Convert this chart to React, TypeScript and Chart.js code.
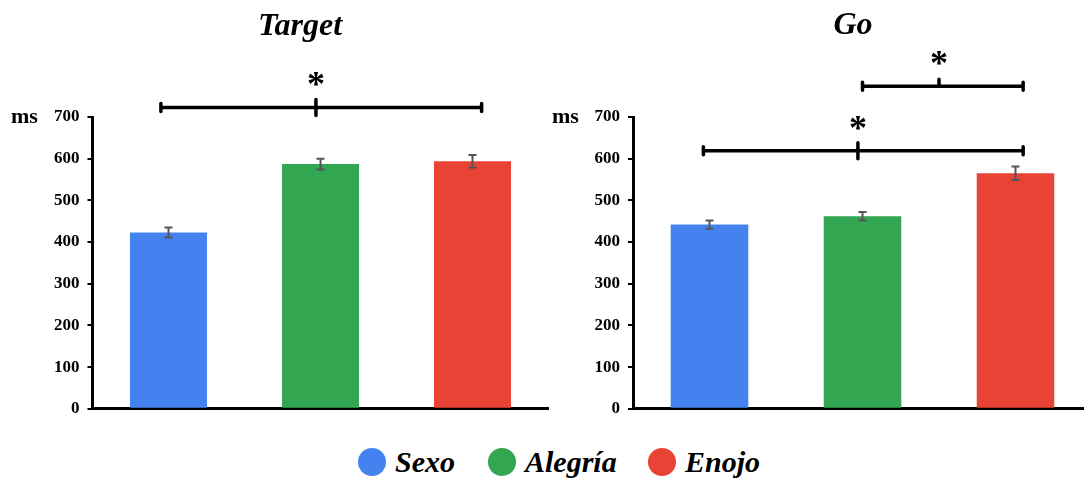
import React, { useEffect, useRef } from "react";
import { Chart, registerables } from "chart.js";

Chart.register(...registerables);

const categories = ["Sexo", "Alegría", "Enojo"];
const colors = ["#4483EF", "#33A652", "#E84335"];

const targetMeans = [423, 587, 594];
const targetErrors = [12, 13, 15];

const goMeans = [442, 462, 565];
const goErrors = [10, 10, 16];

const yMin = 0;
const yMax = 700;
const yStep = 100;

// significance brackets: positions in category-index units, level in ms
const targetBrackets = [{ from: -0.05, to: 2.06, mid: 0.97, level: 723, upOnly: false }];
const goBrackets = [
  { from: -0.04, to: 2.05, mid: 0.97, level: 619, upOnly: false },
  { from: 1.0, to: 2.05, mid: 1.5, level: 774, upOnly: true },
];

const SERIF = '"Liberation Serif", "Times New Roman", serif';

type Bracket = { from: number; to: number; mid: number; level: number; upOnly: boolean };

function makePlugin(errors: number[], brackets: Bracket[]) {
  return {
    id: "extras",
    afterDatasetsDraw(chart: any) {
      const ctx = chart.ctx as CanvasRenderingContext2D;
      const x = chart.scales.x;
      const y = chart.scales.y;
      const meta = chart.getDatasetMeta(0);
      const values = chart.data.datasets[0].data as number[];
      ctx.save();
      // error bars
      ctx.strokeStyle = "#555555";
      ctx.lineWidth = 2;
      meta.data.forEach((bar: any, i: number) => {
        const cx = bar.x;
        const top = y.getPixelForValue(values[i] + errors[i]);
        const bot = y.getPixelForValue(values[i] - errors[i]);
        ctx.beginPath();
        ctx.moveTo(cx, top);
        ctx.lineTo(cx, bot);
        ctx.moveTo(cx - 4, top);
        ctx.lineTo(cx + 4, top);
        ctx.moveTo(cx - 4, bot);
        ctx.lineTo(cx + 4, bot);
        ctx.stroke();
      });
      // brackets
      ctx.strokeStyle = "#000";
      ctx.fillStyle = "#000";
      brackets.forEach((b) => {
        const x1 = x.getPixelForValue(b.from);
        const x2 = x.getPixelForValue(b.to);
        const xm = x.getPixelForValue(b.mid);
        const py = y.getPixelForValue(b.level);
        ctx.lineCap = "butt";
        ctx.lineWidth = 3.5;
        ctx.beginPath();
        ctx.moveTo(x1, py);
        ctx.lineTo(x2, py);
        ctx.stroke();
        ctx.lineCap = "round";
        ctx.lineWidth = 3.5;
        ctx.beginPath();
        ctx.moveTo(x1, py - 4);
        ctx.lineTo(x1, py + 4);
        ctx.moveTo(x2, py - 4);
        ctx.lineTo(x2, py + 4);
        if (b.upOnly) {
          ctx.moveTo(xm, py);
          ctx.lineTo(xm, py - 7);
        } else {
          ctx.moveTo(xm, py - 8);
          ctx.lineTo(xm, py + 8);
        }
        ctx.stroke();
        ctx.font = `bold 36px ${SERIF}`;
        ctx.textAlign = "center";
        ctx.textBaseline = "alphabetic";
        ctx.fillText("*", xm, py - 27 + 16);
      });
      ctx.restore();
    },
  };
}

function BarPanel(props: {
  means: number[];
  errors: number[];
  brackets: Bracket[];
  left: number;
  width: number;
  axisWidth: number;
  plotWidth: number;
}) {
  const ref = useRef<HTMLCanvasElement | null>(null);
  const height = 427;
  const bottomPad = 7;
  useEffect(() => {
    if (!ref.current) return;
    const chart = new Chart(ref.current, {
      type: "bar",
      data: {
        labels: categories,
        datasets: [
          {
            data: props.means,
            backgroundColor: colors,
            borderWidth: 0,
            barPercentage: 0.507,
            categoryPercentage: 1,
          },
        ],
      },
      options: {
        responsive: false,
        animation: false,
        devicePixelRatio: 1,
        layout: {
          padding: {
            left: 0,
            right: props.width - props.axisWidth - props.plotWidth,
            top: 117,
            bottom: bottomPad,
          },
        },
        plugins: { legend: { display: false }, tooltip: { enabled: false }, title: { display: false } },
        scales: {
          x: {
            ticks: { display: false },
            grid: { display: false },
            border: { display: true, color: "#000", width: 3 },
            afterFit: (s: any) => {
              s.height = 0;
            },
          },
          y: {
            min: yMin,
            max: yMax,
            ticks: {
              stepSize: yStep,
              color: "#000",
              padding: 8,
              font: { family: SERIF, size: 17, weight: "bold" },
            },
            grid: { drawOnChartArea: false, drawTicks: true, tickLength: 5, color: "#000", lineWidth: 2 },
            border: { display: true, color: "#000", width: 3 },
            afterFit: (s: any) => {
              s.width = props.axisWidth;
            },
          },
        },
      } as any,
      plugins: [makePlugin(props.errors, props.brackets)],
    });
    return () => chart.destroy();
  }, []);
  return (
    <canvas
      ref={ref}
      width={props.width}
      height={height}
      style={{ position: "absolute", left: props.left, top: 0, width: props.width, height }}
    />
  );
}

const textBase: React.CSSProperties = {
  position: "absolute",
  fontFamily: SERIF,
  color: "#000",
  whiteSpace: "nowrap",
  lineHeight: "30px",
};

export default function App() {
  const legend = [
    { label: categories[0], color: colors[0], cx: 372 },
    { label: categories[1], color: colors[1], cx: 502 },
    { label: categories[2], color: colors[2], cx: 662 },
  ];
  return (
    <div
      style={{
        position: "fixed",
        left: 0,
        top: 0,
        width: 1084,
        height: 480,
        overflow: "hidden",
        background: "#fff",
      }}
    >
      <BarPanel
        means={targetMeans}
        errors={targetErrors}
        brackets={targetBrackets}
        left={0}
        width={560}
        axisWidth={92.5}
        plotWidth={456}
      />
      <BarPanel
        means={goMeans}
        errors={goErrors}
        brackets={goBrackets}
        left={540}
        width={560}
        axisWidth={93}
        plotWidth={459}
      />
      <div style={{ ...textBase, left: 200, width: 200, top: 9, textAlign: "center", fontSize: 32, fontWeight: "bold", fontStyle: "italic" }}>
        Target
      </div>
      <div style={{ ...textBase, left: 753, width: 200, top: 8, textAlign: "center", fontSize: 32, fontWeight: "bold", fontStyle: "italic" }}>
        Go
      </div>
      <div style={{ ...textBase, left: 11, top: 101, fontSize: 22, fontWeight: "bold" }}>ms</div>
      <div style={{ ...textBase, left: 552, top: 101, fontSize: 22, fontWeight: "bold" }}>ms</div>
      {legend.map((l) => (
        <React.Fragment key={l.label}>
          <div
            style={{
              position: "absolute",
              left: l.cx - 14,
              top: 448,
              width: 28,
              height: 28,
              borderRadius: "50%",
              background: l.color,
            }}
          />
          <div
            style={{
              ...textBase,
              left: l.cx + 23,
              top: 447,
              fontSize: 30,
              fontWeight: "bold",
              fontStyle: "italic",
            }}
          >
            {l.label}
          </div>
        </React.Fragment>
      ))}
    </div>
  );
}
